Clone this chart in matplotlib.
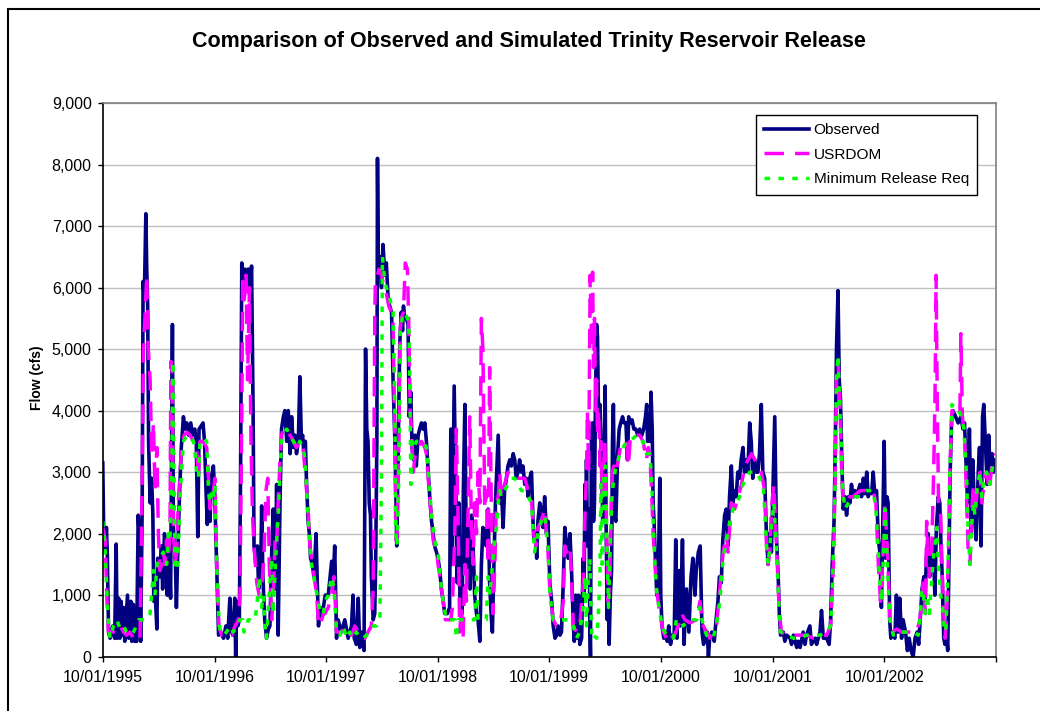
import numpy as np
import matplotlib
matplotlib.use("Agg")
import matplotlib.pyplot as plt
import matplotlib.dates as mdates
from matplotlib import patches
from matplotlib.ticker import FuncFormatter

plt.rcParams['font.family'] = ['Liberation Sans', 'DejaVu Sans']
plt.rcParams['lines.scale_dashes'] = False

START = np.datetime64('1995-10-01')

# days after 10/01/1995 and flow (cfs)
obs_day = [
    0, 3, 8, 12, 15, 19, 24, 33, 39, 44, 47, 52, 56, 60, 63, 68, 72, 81, 85, 92,
    95, 100, 105, 111, 116, 120, 124, 129, 132, 136, 141, 144, 147, 150, 155, 160, 164, 167, 172, 177,
    180, 187, 192, 196, 202, 207, 211, 216, 222, 228, 231, 238, 241, 245, 251, 257, 264, 269, 275, 281,
    288, 294, 301, 306, 311, 315, 322, 328, 333, 338, 342, 347, 351, 355, 362, 366, 373, 379,
    386, 395, 403, 409, 416, 421, 427, 432, 435, 438, 442, 447, 451, 455, 460, 465, 471, 476, 482, 487,
    492, 495, 501, 506, 510, 517, 520, 524, 530, 536, 542, 547, 553, 558, 564, 569, 574, 580, 585, 591,
    596, 602, 607, 613, 618, 624, 629, 634, 640, 645, 650, 654, 658, 663, 667, 672, 676, 680, 686, 691,
    698, 702, 706, 711, 716, 722, 728,
    738, 749, 754, 759, 765, 770, 781, 792, 803, 814, 819, 823, 830, 836, 841, 847, 855, 860, 864, 868,
    872, 876, 879, 885, 890, 893, 897, 899, 902, 907, 912, 917, 923, 928, 934, 939, 945, 950, 956, 959,
    962, 967, 972, 977, 981, 984, 988, 994, 999, 1003, 1008, 1012, 1017, 1021, 1026, 1032, 1037, 1043, 1048, 1054,
    1059, 1065, 1070, 1076, 1081, 1086, 1092, 1097, 1103, 1108, 1114, 1119, 1128, 1135, 1139, 1143, 1150, 1154, 1160, 1165,
    1169, 1176, 1180, 1185, 1190, 1193, 1198, 1202, 1207, 1212, 1217, 1223, 1228, 1234, 1239, 1244, 1250, 1255, 1261, 1266,
    1272, 1275, 1280, 1285, 1289, 1294, 1299, 1305, 1310, 1315, 1321, 1326, 1332, 1337, 1343, 1348, 1353, 1359, 1364, 1370,
    1375, 1381, 1386, 1392, 1397, 1403, 1408, 1411, 1416, 1420, 1424, 1430, 1435, 1441, 1446, 1452, 1457,
    1463, 1469, 1474, 1480, 1485, 1490, 1496, 1501, 1507, 1512, 1518, 1523, 1529, 1534, 1540, 1543, 1548, 1553, 1557, 1561,
    1567, 1572, 1575, 1578, 1581, 1583, 1586, 1591, 1594, 1596, 1599, 1603, 1606, 1609, 1612, 1616, 1619, 1622, 1627, 1630,
    1633, 1636, 1641, 1644, 1647, 1651, 1654, 1657, 1661, 1665, 1668, 1671, 1675, 1679, 1685, 1690, 1695, 1701, 1706, 1712,
    1717, 1721, 1727, 1732, 1738, 1744, 1751, 1757, 1764, 1770, 1776, 1780, 1783, 1788, 1791, 1794, 1798, 1801, 1804, 1809,
    1813, 1818, 1823, 1826, 1830, 1836, 1841, 1847, 1852, 1858, 1863, 1870, 1875, 1879, 1886, 1890, 1897, 1902, 1910, 1918,
    1925, 1931, 1938, 1942, 1949, 1955, 1961, 1966, 1973, 1978, 1982, 1986, 1993, 2001, 2007, 2013, 2018, 2024, 2029, 2035,
    2040, 2046, 2051, 2057, 2062, 2068, 2073, 2078, 2084, 2089, 2095, 2100, 2106, 2111, 2117, 2122, 2127, 2133, 2138, 2144,
    2149, 2155, 2160, 2166, 2171, 2177, 2182, 2188,
    2199, 2205, 2211, 2214, 2218, 2227, 2232, 2238, 2249, 2254, 2260, 2271, 2276, 2282, 2292, 2298, 2303, 2314, 2319, 2331,
    2336, 2347, 2352, 2358, 2369, 2377, 2382, 2387, 2393, 2397, 2401, 2406, 2410, 2414, 2419, 2423, 2429, 2434, 2440, 2445,
    2450, 2456, 2461, 2467, 2472, 2478, 2483, 2489, 2494, 2500, 2505, 2510, 2516, 2521, 2527, 2532, 2538, 2543, 2548, 2552,
    2557, 2562, 2566, 2570, 2575, 2579, 2584, 2592, 2597, 2603, 2608, 2614, 2619, 2627, 2633, 2639, 2645, 2652, 2658, 2665,
    2670, 2676, 2681, 2687, 2691, 2695, 2701, 2706, 2712, 2717, 2723, 2728, 2734, 2739, 2743, 2747, 2752, 2756, 2760, 2765,
    2769, 2773, 2778, 2782, 2791, 2799, 2808, 2815, 2820, 2826, 2830, 2836, 2842, 2847, 2853, 2858, 2865, 2869, 2874, 2879,
    2883, 2888, 2894, 2899, 2904, 2910, 2915, 2920,
]
obs_cfs = [
    3150, 2100, 1700, 2100, 1650, 400, 300, 500, 300, 1830, 300, 950, 300, 900, 350, 800, 250, 1000, 300, 900,
    250, 850, 250, 250, 2300, 1900, 250, 2400, 6100, 5800, 7200, 6300, 5700, 3500, 2500, 2900, 2300, 900, 1000, 450,
    1600, 1300, 1800, 1100, 2000, 1700, 1000, 1900, 950, 5400, 2100, 1500, 800, 1600, 2600, 3400, 3900, 3700, 3800, 3600,
    3800, 3600, 3700, 3500, 1950, 3700, 3750, 3800, 3500, 2700, 2150, 2900, 2200, 2900, 3100, 2700, 1400, 350,
    400, 300, 500, 300, 950, 400, 350, 950, 0, 900, 500, 600, 3000, 6400, 6000, 6300, 5950, 6300, 6000, 6350,
    4000, 1800, 1500, 1800, 1100, 1400, 2450, 1300, 600, 300, 450, 500, 1700, 2400, 1100, 2800, 350, 2500, 3700, 3900,
    4000, 3500, 4000, 3300, 3900, 3400, 3600, 3300, 3500, 4550, 3500, 3600, 3300, 3500, 2800, 2200, 2000, 1600, 1500, 1300,
    2000, 1200, 500, 800, 700, 800, 1000,
    1000, 1550, 1200, 1800, 300, 600, 400, 600, 300, 500, 1000, 300, 200, 950, 150, 400, 100, 5000, 3700, 3500,
    2500, 2300, 1300, 600, 700, 1500, 3500, 8100, 6200, 6500, 6000, 6700, 6200, 6400, 5800, 5700, 5600, 4500, 3500, 2700,
    1800, 3400, 5100, 5600, 5300, 5700, 5500, 5500, 5400, 3900, 4300, 3400, 3200, 3600, 3100, 3600, 3700, 3800, 3700, 3800,
    3500, 3000, 2600, 2200, 2000, 1800, 1700, 1600, 1400, 1100, 900, 700, 700, 800, 3700, 1500, 4400, 3100, 1200, 2500,
    900, 700, 2700, 4100, 1500, 2200, 1300, 1100, 2300, 1800, 1000, 700, 600, 250, 1500, 2100, 2000, 1800, 2400, 1200,
    600, 400, 1500, 2500, 3000, 3600, 2500, 2700, 2100, 2700, 2900, 3100, 3200, 3100, 3300, 3200, 2900, 3000, 3200, 3000,
    3100, 2800, 2900, 2600, 2900, 3000, 2200, 1900, 2000, 1600, 2200, 2500, 2400, 2100, 2600, 2000, 2200,
    1200, 900, 500, 300, 350, 500, 350, 400, 1200, 2100, 1800, 1600, 2000, 1400, 500, 250, 1000, 300, 1000, 200,
    300, 1600, 1000, 2800, 2300, 3200, 1800, 2400, 500, 0, 3600, 3800, 2200, 2500, 4000, 5400, 5200, 4000, 4100, 3600,
    3100, 2200, 3200, 4400, 2200, 600, 1500, 200, 1000, 1400, 3500, 4100, 2300, 2200, 3300, 3700, 3800, 3900, 3800, 3800,
    3200, 3900, 3800, 3850, 3700, 3700, 3600, 3700, 3600, 3700, 3900, 4100, 3500, 3800, 3500, 4300, 3700, 2500, 2200, 1500,
    1000, 1300, 2900, 1000, 500, 300, 400, 250, 500, 200, 350, 350, 1900, 300, 1400, 500, 1900, 200, 1100, 400,
    1300, 1600, 1000, 1400, 1700, 1800, 400, 200, 350, 400, 0, 300, 400, 250, 600, 900, 1300, 1200, 1900, 2300,
    2400, 1800, 2600, 3100, 2500, 2700, 2600, 3000, 2900, 3200, 3400, 3000, 3200, 3000, 3800, 3500, 2900, 3200, 3000, 3000,
    3300, 4100, 3000, 2900, 2100, 1500, 2000, 1700,
    3900, 1900, 1200, 700, 350, 400, 250, 350, 300, 200, 350, 150, 250, 150, 400, 200, 350, 500, 200, 300,
    200, 400, 750, 300, 300, 200, 600, 1500, 2200, 3400, 5000, 5950, 4500, 4200, 3100, 2400, 2600, 2300, 2600, 2500,
    2800, 2600, 2700, 2600, 2700, 2800, 2600, 2900, 2650, 3000, 2600, 2700, 2650, 3000, 2600, 2700, 1900, 1700, 800, 2000,
    3500, 1600, 2600, 2500, 600, 300, 400, 300, 1000, 400, 950, 300, 600, 400, 100, 300, 100, 0, 300, 400,
    200, 700, 1100, 1300, 900, 1600, 2000, 1300, 1700, 1900, 1000, 2100, 2600, 2500, 1800, 1300, 300, 200, 400, 100,
    1500, 3000, 3900, 4000, 3900, 3800, 3900, 3700, 3800, 3000, 2500, 3700, 2000, 3200, 2300, 1900, 3000, 3400, 1800, 3900,
    4100, 3500, 2800, 3600, 3000, 3300, 3000, 3200,
]

usr_day = [
    0, 8, 13, 19, 24, 35, 46, 57, 68, 78, 89, 100, 111, 122, 128, 133, 138, 144, 149, 155,
    160, 166, 171, 177, 182, 187, 193, 198, 204, 209, 215, 220, 223, 227, 231, 237, 242, 247, 253, 258,
    266, 275, 286, 297, 307, 313, 318, 329, 340, 346, 351, 362, 367, 373, 380, 389, 405, 422, 433, 444,
    449, 455, 458, 463, 469, 474, 480, 485, 490, 495, 504, 512, 520, 528, 534, 540, 545, 553, 558, 564,
    569, 574, 580, 585, 591, 602, 613, 624, 634, 645, 656, 662, 667, 673, 678, 683, 689, 700, 705, 711,
    722,
    727, 738, 749, 757, 765, 781, 792, 803, 814, 825, 836, 847, 858, 868, 879, 885, 890, 892, 899, 904,
    912, 921, 928, 936, 945, 950, 956, 959, 963, 969, 973, 977, 984, 990, 997, 1001, 1006, 1010, 1016, 1023,
    1032, 1043, 1054, 1059, 1065, 1073, 1081, 1092, 1103, 1114, 1121, 1130, 1139, 1144, 1152, 1157, 1163, 1168, 1174, 1179,
    1185, 1190, 1195, 1201, 1206, 1212, 1217, 1223, 1228, 1234, 1239, 1244, 1250, 1255, 1261, 1266, 1272, 1277, 1283, 1288,
    1294, 1299, 1304, 1315, 1326, 1337, 1348, 1359, 1370, 1381, 1392, 1403, 1408, 1413, 1419, 1424, 1435, 1446, 1457,
    1463, 1474, 1485, 1496, 1507, 1512, 1518, 1529, 1534, 1540, 1550, 1561, 1572, 1578, 1583, 1586, 1590, 1592, 1595, 1600,
    1603, 1606, 1609, 1613, 1616, 1619, 1623, 1627, 1630, 1634, 1638, 1643, 1649, 1654, 1659, 1664, 1668, 1672, 1679, 1687,
    1694, 1703, 1714, 1720, 1727, 1736, 1747, 1757, 1768, 1779, 1785, 1790, 1796, 1801, 1807, 1812, 1823, 1834, 1845, 1856,
    1867, 1883, 1894, 1905, 1921, 1943, 1954, 1965, 1976, 1986, 1997, 2008, 2014, 2019, 2030, 2041, 2046, 2057, 2068, 2079,
    2090, 2101, 2112, 2123, 2134, 2144, 2155, 2166, 2172, 2177, 2183, 2188, 2196,
    2205, 2214, 2221, 2238, 2260, 2281, 2303, 2325, 2347, 2369, 2382, 2391, 2397, 2401, 2406, 2412, 2418, 2423, 2434, 2445,
    2456, 2478, 2500, 2521, 2530, 2538, 2545, 2552, 2559, 2565, 2571, 2576, 2585, 2598, 2614, 2631, 2647, 2663, 2674, 2685,
    2692, 2696, 2705, 2712, 2718, 2721, 2724, 2727, 2731, 2735, 2742, 2746, 2751, 2756, 2761, 2767, 2772, 2779, 2789, 2800,
    2805, 2808, 2813, 2821, 2827, 2832, 2838, 2843, 2849, 2854, 2862, 2871, 2876, 2884, 2892, 2901, 2909, 2922,
]
usr_cfs = [
    2100, 1900, 1000, 400, 400, 400, 400, 500, 400, 350, 400, 300, 250, 300, 2400, 5000, 5500, 6200, 5000, 4500,
    3300, 3800, 2700, 3400, 2000, 1400, 1500, 1700, 1500, 1900, 1600, 2000, 4800, 4600, 2000, 1500, 1700, 2500, 3000, 3400,
    3600, 3650, 3600, 3500, 3400, 2900, 3500, 3500, 3400, 2900, 2400, 2700, 2900, 1500, 500, 350, 400, 350, 500, 600,
    1000, 4000, 6100, 5800, 6200, 4500, 6000, 3500, 2300, 1800, 1200, 1000, 1100, 1700, 2700, 2900, 1500, 600, 1000, 1900,
    1800, 2500, 3200, 3600, 3700, 3700, 3600, 3500, 3400, 3500, 3400, 3000, 2700, 2300, 1800, 1600, 1400, 1000, 600, 500,
    700,
    700, 800, 1000, 1300, 400, 400, 500, 400, 350, 500, 400, 300, 300, 400, 500, 1100, 5500, 6100, 6200, 6300,
    6200, 6000, 5900, 5700, 5600, 5400, 3500, 1900, 1900, 3500, 5300, 5500, 5600, 6400, 6300, 5500, 4000, 3700, 3000, 3300,
    3400, 3500, 3400, 3300, 2900, 2400, 1900, 1700, 1300, 900, 600, 600, 600, 800, 2000, 3700, 2200, 400, 800, 300,
    1500, 900, 2300, 3900, 2200, 1500, 2500, 2000, 3000, 2500, 5500, 5000, 2400, 2700, 1500, 4700, 2200, 700, 1500, 2500,
    2600, 3000, 2600, 2800, 3000, 3000, 3000, 2900, 2900, 2900, 2700, 2600, 2100, 1900, 1800, 2100, 2200, 2400, 1700,
    1100, 600, 500, 500, 900, 1800, 1700, 1800, 1300, 500, 400, 500, 1200, 2300, 3000, 4000, 3000, 4200, 6200, 5000,
    6250, 4700, 5500, 4000, 4500, 3600, 4000, 3100, 3500, 2600, 3000, 3500, 2000, 900, 1200, 2500, 3000, 3100, 3000, 3200,
    3400, 3500, 3500, 3100, 3600, 3600, 3600, 3600, 3500, 3200, 3400, 3300, 2700, 2000, 1500, 1100, 700, 400, 300, 400,
    300, 500, 700, 600, 550, 600, 900, 500, 400, 300, 400, 500, 800, 1100, 1700, 2000, 1700, 2500, 2400, 2600,
    2800, 3100, 3200, 3300, 3200, 3100, 3000, 2700, 1800, 1500, 1700, 2400, 2800,
    1800, 700, 400, 350, 350, 350, 350, 300, 350, 350, 500, 1500, 3000, 4500, 4800, 4200, 3000, 2500, 2500, 2600,
    2600, 2700, 2700, 2700, 2500, 1500, 900, 1500, 2500, 2000, 1300, 600, 400, 450, 400, 400, 400, 400, 600, 1200,
    700, 2200, 1300, 1600, 2800, 3500, 4500, 6200, 4000, 2500, 2300, 1500, 800, 300, 600, 1600, 3000, 4000, 3900, 3900,
    4000, 5250, 3900, 3500, 2500, 1700, 1500, 2300, 2800, 2300, 2700, 3000, 2500, 2800, 3000, 2700, 3100, 3300,
]

min_day = [
    0, 8, 13, 19, 24, 35, 46, 57, 68, 78, 89, 100, 111, 117, 128, 138, 144, 155, 166, 171,
    177, 187, 198, 209, 215, 220, 226, 229, 232, 236, 240, 244, 249, 253, 258, 264, 275, 286, 297, 302,
    307, 313, 318, 329, 340, 346, 351, 356, 362, 367, 373, 378, 384, 395, 405, 416, 427, 438, 449, 458,
    462, 471, 476, 487, 498, 504, 512, 520, 525, 531, 536, 547, 553, 558, 564, 569, 574, 580, 585, 591,
    602, 613, 624, 634, 645, 656, 662, 667, 673, 678, 683, 694, 705, 711, 722,
    727, 738, 749, 757, 765, 776, 787, 798, 808, 819, 830, 841, 852, 863, 874, 885, 896, 907, 912, 915,
    921, 928, 936, 945, 950, 956, 959, 963, 969, 974, 980, 988, 997, 1002, 1006, 1008, 1012, 1019, 1026, 1037,
    1048, 1059, 1067, 1076, 1086, 1097, 1108, 1117, 1125, 1141, 1152, 1157, 1163, 1184, 1206, 1217, 1223, 1228, 1244, 1255,
    1261, 1266, 1272, 1277, 1283, 1288, 1294, 1299, 1304, 1315, 1326, 1337, 1348, 1359, 1370, 1381, 1392, 1403, 1408, 1413,
    1424, 1435, 1446, 1457,
    1463, 1474, 1485, 1507, 1529, 1540, 1550, 1561, 1572, 1578, 1583, 1589, 1594, 1600, 1605, 1616, 1621, 1627, 1630, 1634,
    1640, 1645, 1651, 1655, 1659, 1665, 1670, 1676, 1681, 1692, 1703, 1714, 1725, 1736, 1747, 1758, 1768, 1779, 1790, 1796,
    1801, 1807, 1812, 1823, 1834, 1845, 1856, 1867, 1877, 1888, 1899, 1921, 1943, 1954, 1965, 1976, 1986, 1997, 2008, 2019,
    2030, 2041, 2052, 2063, 2074, 2084, 2095, 2106, 2117, 2128, 2139, 2150, 2161, 2166, 2172, 2177, 2183, 2188, 2196,
    2205, 2212, 2218, 2238, 2260, 2281, 2303, 2325, 2347, 2369, 2382, 2388, 2395, 2401, 2406, 2410, 2416, 2421, 2429, 2440,
    2456, 2478, 2500, 2521, 2530, 2538, 2543, 2549, 2554, 2560, 2565, 2571, 2576, 2587, 2603, 2620, 2636, 2652, 2669, 2674,
    2680, 2685, 2691, 2698, 2705, 2712, 2718, 2723, 2729, 2734, 2742, 2748, 2753, 2759, 2767, 2772, 2779, 2789, 2800, 2811,
    2818, 2827, 2832, 2838, 2843, 2849, 2854, 2862, 2871, 2876, 2884, 2892, 2903, 2912, 2922,
]
min_cfs = [
    2200, 1700, 1100, 500, 300, 500, 600, 450, 500, 400, 350, 400, 500, 600, 600, 600, 600, 700, 1400, 1000,
    1500, 1600, 1700, 1500, 2000, 1900, 3000, 4800, 3500, 1700, 1400, 1500, 2000, 2600, 3000, 3500, 3600, 3550, 3500, 3300,
    3000, 2900, 3500, 3550, 3500, 2700, 2500, 2700, 2600, 2800, 1500, 800, 400, 350, 400, 500, 400, 500, 600, 600,
    400, 500, 600, 600, 600, 800, 1300, 800, 1000, 500, 300, 1200, 1600, 700, 1400, 1900, 2300, 3000, 3500, 3600,
    3700, 3600, 3500, 3400, 3500, 3400, 3200, 2700, 2200, 1800, 1500, 1200, 900, 700, 700,
    900, 1000, 1300, 1100, 400, 350, 500, 300, 400, 300, 400, 300, 300, 350, 400, 500, 500, 600, 3000, 6500,
    6200, 6000, 5900, 5700, 5600, 4000, 2000, 1800, 3000, 5300, 5500, 5600, 5500, 5300, 4000, 2800, 3500, 3400, 3500, 3500,
    3500, 3400, 2900, 2300, 1900, 1700, 1100, 800, 600, 600, 600, 300, 600, 600, 600, 600, 1300, 600, 600, 600,
    1300, 1000, 1300, 1600, 1900, 2100, 2500, 2700, 2600, 2700, 2800, 2900, 2900, 2800, 2700, 2700, 2600, 2500, 2100, 1700,
    2000, 2200, 2300, 1800,
    1000, 600, 600, 600, 600, 500, 300, 400, 800, 1300, 500, 1300, 1600, 300, 350, 300, 600, 1300, 2800, 1500,
    3000, 3100, 1500, 800, 1500, 2500, 2800, 3000, 3100, 3300, 3400, 3500, 3500, 3550, 3600, 3500, 3500, 3300, 3300, 2900,
    2200, 1500, 1100, 700, 450, 350, 300, 300, 600, 600, 500, 600, 600, 800, 500, 350, 300, 300, 500, 900,
    1600, 1900, 2200, 2400, 2500, 2600, 2800, 2900, 3000, 3000, 3000, 2900, 2800, 2400, 1800, 1500, 1800, 2100, 2500,
    1700, 900, 400, 350, 300, 300, 350, 350, 350, 400, 500, 1200, 2500, 4500, 4900, 4300, 3500, 2700, 2400, 2500,
    2600, 2600, 2700, 2700, 2400, 1700, 1200, 900, 1600, 2400, 1800, 1100, 600, 350, 400, 400, 400, 400, 350, 600,
    1100, 1000, 700, 1000, 700, 1200, 1600, 1800, 2100, 1500, 1000, 800, 500, 400, 1700, 3000, 4100, 4000, 4000, 3900,
    3700, 2900, 2000, 1500, 2100, 2500, 2300, 2800, 3000, 2600, 2900, 3000, 2800, 3100, 3200,
]

tick_years = [1995, 1996, 1997, 1998, 1999, 2000, 2001, 2002, 2003]
tick_labels = ['10/01/1995', '10/01/1996', '10/01/1997', '10/01/1998',
               '10/01/1999', '10/01/2000', '10/01/2001', '10/01/2002', '']
y_ticks = [0, 1000, 2000, 3000, 4000, 5000, 6000, 7000, 8000, 9000]


def as_dates(days):
    return mdates.date2num(START + np.asarray(days).astype('timedelta64[D]'))


fig = plt.figure(figsize=(10.4, 7.11), dpi=100)
ax = fig.add_axes([0.0988, 0.0764, 0.8586, 0.7787])

ax.plot(as_dates(obs_day), obs_cfs, color='#000080', lw=2.6, label='Observed', solid_joinstyle='round')
ax.plot(as_dates(usr_day), usr_cfs, color='#FF00FF', lw=2.5, ls=(0, (14, 8)), label='USRDOM')
ax.plot(as_dates(min_day), min_cfs, color='#00FF00', lw=2.5, ls=(0, (4, 6)), label='Minimum Release Req')

ticks = mdates.date2num(np.array([f'{y}-10-01' for y in tick_years], dtype='datetime64[D]'))
ax.set_xlim(ticks[0], ticks[-1])
ax.set_xticks(ticks)
ax.set_xticklabels(tick_labels)
ax.set_ylim(0, 9000)
ax.set_yticks(y_ticks)
ax.yaxis.set_major_formatter(FuncFormatter(lambda v, p: f'{v:,.0f}'))
ax.tick_params(direction='out', length=3.5, width=1, labelsize=11.5, colors='black')
ax.tick_params(axis='x', pad=6)
ax.tick_params(axis='y', pad=4.5)

ax.yaxis.grid(True, color='#C0C0C0', lw=1)
ax.set_axisbelow(True)
for s in ['left', 'bottom']:
    ax.spines[s].set_color('black')
    ax.spines[s].set_linewidth(1.2)
for s in ['top', 'right']:
    ax.spines[s].set_color('#808080')
    ax.spines[s].set_linewidth(1.2)

leg = ax.legend(loc='upper right', bbox_to_anchor=(977.3 / 1040, 1 - 114.7 / 711),
                bbox_transform=fig.transFigure, fancybox=False, shadow=False,
                edgecolor='black', fontsize=11.1, handlelength=2.9, handletextpad=0.3,
                labelspacing=0.68, borderpad=0.55, borderaxespad=0)
leg.get_frame().set_linewidth(1.0)
leg.get_frame().set_alpha(1)

fig.text(0.509, 0.941, 'Comparison of Observed and Simulated Trinity Reservoir Release',
         ha='center', va='center', fontsize=15.5, fontweight='bold')
fig.text(0.0356, 0.469, 'Flow (cfs)', rotation=90, ha='center', va='center',
         fontsize=10, fontweight='bold')

# chart area border (cut off at right and bottom in the original)
fig.add_artist(patches.Rectangle((8 / 1040, -0.1), 1.2, 1.1 - 9 / 711, transform=fig.transFigure,
                                 fill=False, edgecolor='black', lw=1.5, clip_on=False))

fig.savefig('out.png', dpi=100)
